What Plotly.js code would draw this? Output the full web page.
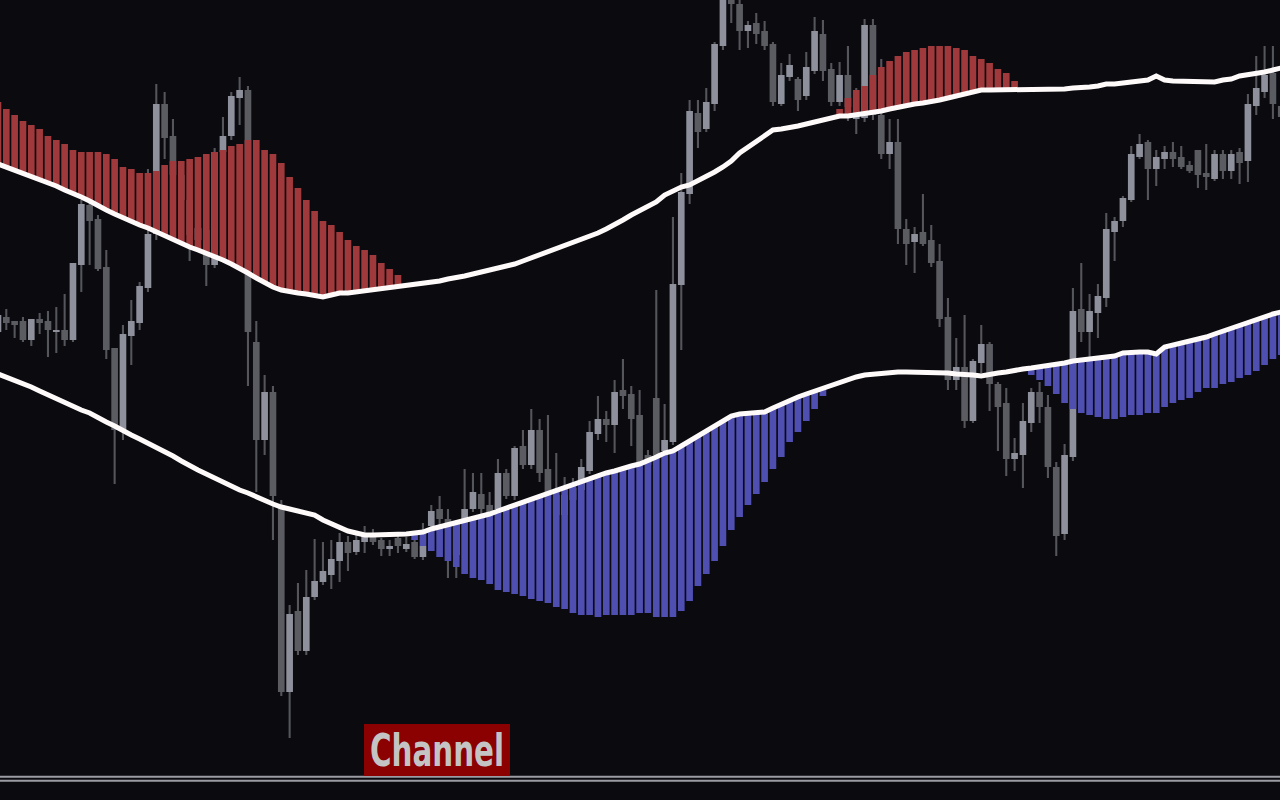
<!DOCTYPE html>
<html>
<head>
<meta charset="utf-8">
<script src="https://cdn.plot.ly/plotly-3.0.1.min.js"></script>
<style>
  html, body { margin: 0; padding: 0; background: #0a0a0f; }
  #chart { width: 1280px; height: 800px; }
</style>
</head>
<body>
<div id="chart"></div>
<script>
// Chart levels are measured downward from the top of the chart (axis is reversed),
// one entry per bar, bars -1 .. 153.
const openL = [332,317,321,321,340,319,321,332,330,340,265,205,219,267,348,430,336,323,288,234,104,136,175,200,240,230,265,152,136,98,90,342,440,392,505,692,611,651,597,582,575,561,542,552,542,536,540,549,538,549,542,557,526,509,519,555,519,509,494,505,509,473,496,446,465,430,469,495,515,500,490,471,434,419,425,390,394,415,455,398,451,442,285,194,113,129,104,46,-2,4,31,23,31,44,104,77,79,96,71,34,69,102,75,119,118,25,115,154,142,229,242,232,240,261,317,380,367,421,363,344,384,403,459,455,423,392,407,467,534,457,309,332,313,298,232,221,200,157,142,169,159,152,157,165,150,173,179,154,171,152,161,106,92,73,106];
const highL = [310,309,321,317,319,313,311,307,294,263,200,200,215,250,348,325,300,282,169,84,92,119,170,190,215,225,148,117,92,77,86,321,375,386,500,605,583,570,539,542,540,533,536,534,526,529,538,540,534,537,540,523,505,496,509,520,469,473,473,492,459,469,446,430,409,419,415,453,477,478,459,421,396,411,380,359,386,390,450,290,404,217,173,100,100,88,42,-15,-10,-5,21,13,21,42,63,54,77,52,17,20,63,62,46,88,19,19,59,119,119,219,227,194,225,244,298,338,315,359,325,342,382,388,438,403,388,382,395,462,444,288,263,294,284,213,217,196,146,134,140,150,146,142,146,161,150,144,150,150,150,148,94,56,46,46,100];
const lowL = [335,330,338,342,346,334,357,353,346,342,292,265,271,359,484,440,365,330,292,240,159,185,215,261,245,286,268,158,140,125,386,492,455,540,696,738,655,655,600,585,589,582,571,555,553,545,556,556,553,552,559,560,530,527,578,578,520,512,517,518,512,499,500,469,469,482,497,525,520,505,495,474,440,442,453,409,446,470,470,460,455,445,350,204,148,132,111,50,23,50,48,44,50,106,106,81,111,100,74,81,106,106,121,134,122,120,159,169,244,265,273,246,267,327,390,390,428,423,373,411,451,476,471,488,432,423,478,556,540,461,342,357,338,307,261,227,202,159,200,186,169,167,169,173,188,190,181,179,179,184,182,115,98,119,125];
const closeL = [315,323,325,340,319,323,330,330,340,263,204,221,269,350,430,334,321,286,234,104,138,175,200,235,228,265,152,136,96,90,332,440,392,496,692,614,651,597,581,571,559,542,553,540,536,542,549,546,546,544,557,546,511,519,523,524,509,492,509,513,473,496,448,465,430,473,495,515,495,488,467,432,419,425,392,396,419,462,465,455,440,284,192,111,132,102,44,-3,4,31,25,34,46,102,75,65,100,67,31,71,102,75,107,116,25,115,154,142,229,244,234,244,263,319,380,367,421,361,344,384,407,459,453,421,392,407,467,536,455,311,332,311,296,229,221,198,154,144,169,157,152,159,167,171,175,177,154,171,154,163,104,88,75,104,117];

// Channel lines
const upperBand = [164,167,170,173,176,179,183,186,190,193,197,201,206,210,214,218,221,225,228,232,236,240,243,247,250,253,256,260,264,268,273,278,283,287,290,292,293,294,296,297,295,293,293,292,290,289,288,287,286,285,284,283,282,281,279,278,276,274,272,270,268,267,264,261,258,254,251,248,245,242,239,236,233,229,225,220,215,211,207,202,195,191,187,185,181,177,172,167,161,153,147,142,135,130,129,128,126,124,122,121,119,116,116,115,114,112,111,109,107,106,104,103,102,100,98,96,94,92,90,90,90,90,90,90,90,90,89,89,89,88,88,87,86,84,84,83,82,81,80,76,80,81,81,81,82,82,82,80,79,76,75,74,72,70,68];
const lowerBand = [374,377,380,384,387,391,395,398,402,406,410,413,418,422,426,431,435,439,443,447,451,456,461,466,470,474,478,483,487,490,493,497,500,504,507,509,511,512,515,520,524,528,531,533,535,535,535,535,535,534,533,532,529,527,525,523,521,519,517,514,511,508,505,503,500,497,494,491,488,485,481,478,476,473,471,468,466,464,461,457,453,451,446,441,436,430,426,420,416,414,413,413,412,408,404,401,397,394,391,389,386,383,379,377,375,374,373,372,372,372,372,372,372,372,373,374,374,375,376,374,373,372,370,369,368,367,366,364,363,361,360,359,358,357,356,353,352,352,352,354,347,345,344,342,340,337,334,331,329,326,322,320,317,314,312];

// Histogram above the upper line (top level) and below the lower line (bottom level)
const overTop = [102,109,115,121,125,129,136,140,144,150,152,152,152,154,159,167,169,173,173,171,165,161,161,159,157,154,152,150,146,144,140,140,150,154,163,177,188,200,211,221,225,232,240,246,250,255,263,269,275,
  null,null,null,null,null,null,null,null,null,null,null,null,null,null,null,null,null,null,null,null,null,null,null,null,null,null,null,null,null,null,null,null,null,null,null,null,null,null,null,null,null,null,null,null,null,null,null,null,null,null,null,null,
  109,98,90,86,75,67,61,56,52,50,48,46,46,46,48,50,56,59,63,69,73,81,
  null,null,null,null,null,null,null,null,null,null,null,null,null,null,null,null,null,null,null,null,null,null,null,null,null,null,null,null,null,null,null,null];
const underBottom = [null,null,null,null,null,null,null,null,null,null,null,null,null,null,null,null,null,null,null,null,null,null,null,null,null,null,null,null,null,null,null,null,null,null,null,null,null,null,null,null,null,null,null,null,null,null,null,null,null,null,
  540,546,551,557,561,567,574,578,580,584,590,592,594,596,599,601,603,607,609,613,615,615,617,615,615,615,615,613,613,617,617,617,611,601,586,574,561,546,530,517,505,494,482,469,457,442,432,421,409,396,
  null,null,null,null,null,null,null,null,null,null,null,null,null,null,null,null,null,null,null,null,null,null,null,null,
  375,380,386,394,403,409,413,415,417,419,419,417,415,415,413,413,407,403,400,398,392,388,388,384,382,378,375,371,365,359,355];

const label = "Channel";

// ---------- build traces ----------
const xs = openL.map((_, k) => k - 1);
const lightC = '#8e909c', darkC = '#5b5c62', wickC = '#55565c';
const bodySize = closeL.map((c, k) => {
  let s = c - openL[k];
  if (Math.abs(s) < 1.5) s = (s < 0 ? -1.5 : 1.5);
  return s;
});
const bodyColor = closeL.map((c, k) => (c < openL[k] ? lightC : darkC));
const BW = 0.8;

const wicks = {
  type: 'bar', x: xs, base: highL, y: lowL.map((l, k) => l - highL[k]),
  width: 0.25, marker: { color: wickC, line: { width: 0 } }, hoverinfo: 'skip'
};
const bodies = {
  type: 'bar', x: xs, base: openL, y: bodySize,
  width: BW, marker: { color: bodyColor, line: { width: 0 } }, hoverinfo: 'skip'
};
const redBars = {
  type: 'bar', x: xs, base: upperBand, y: overTop.map((v, k) => v === null ? null : v - upperBand[k]),
  width: BW, marker: { color: '#9f393b', line: { width: 0 } }, hoverinfo: 'skip'
};
const blueBars = {
  type: 'bar', x: xs, base: lowerBand, y: underBottom.map((v, k) => v === null ? null : v - lowerBand[k]),
  width: BW, marker: { color: '#4f4fb2', line: { width: 0 } }, hoverinfo: 'skip'
};
const upLine = {
  type: 'scatter', mode: 'lines', x: xs, y: upperBand,
  line: { color: '#fffafa', width: 5 }, hoverinfo: 'skip'
};
const loLine = {
  type: 'scatter', mode: 'lines', x: xs, y: lowerBand,
  line: { color: '#fffafa', width: 5 }, hoverinfo: 'skip'
};

const layout = {
  width: 1280, height: 800,
  margin: { l: 0, r: 0, t: 0, b: 0, pad: 0 },
  paper_bgcolor: '#0a0a0f', plot_bgcolor: '#0a0a0f',
  showlegend: false, barmode: 'overlay',
  xaxis: { range: [-0.756, 152.85], visible: false, fixedrange: true },
  yaxis: { range: [800, 0], visible: false, fixedrange: true },
  shapes: [
    { type: 'line', xref: 'paper', yref: 'paper', x0: 0, x1: 1, y0: 23.2 / 800, y1: 23.2 / 800, line: { color: '#9c9ca4', width: 2 } },
    { type: 'line', xref: 'paper', yref: 'paper', x0: 0, x1: 1, y0: 19.2 / 800, y1: 19.2 / 800, line: { color: '#9c9ca4', width: 2 } }
  ],
  annotations: [{
    xref: 'paper', yref: 'paper', x: 364 / 1280, y: 24 / 800, xanchor: 'left', yanchor: 'bottom',
    text: label, showarrow: false,
    bgcolor: '#8b0000', bordercolor: '#8b0000', borderwidth: 1, borderpad: 3,
    width: 138, height: 44, align: 'center', valign: 'middle',
    font: { family: 'Liberation Sans Narrow, DejaVu Sans Condensed, DejaVu Sans, sans-serif', size: 44, color: '#c4c4c4', weight: 'bold' }
  }]
};

Plotly.newPlot('chart', [wicks, bodies, redBars, blueBars, upLine, loLine], layout, { displayModeBar: false, staticPlot: true })
  .then(gd => {
    // squeeze the label text into the narrow box, like a condensed face
    const t = gd.querySelector('.annotation-text');
    if (t) {
      t.setAttribute('textLength', '134');
      t.setAttribute('lengthAdjust', 'spacingAndGlyphs');
    }
  });
</script>
</body>
</html>
